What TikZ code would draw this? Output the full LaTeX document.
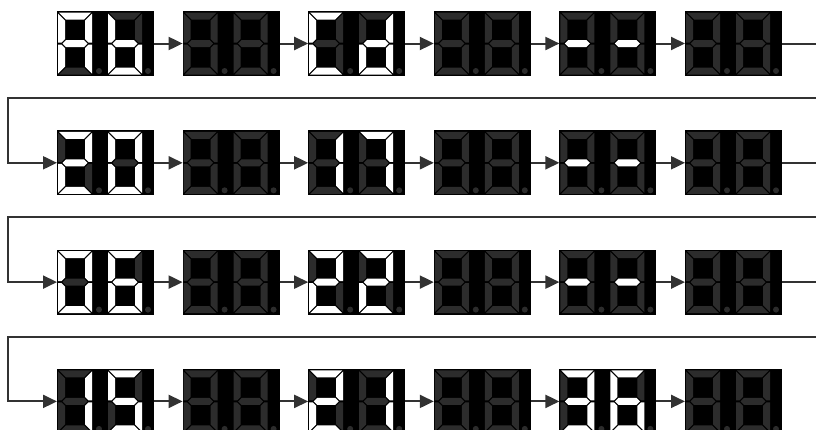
\documentclass[tikz,border=0pt]{standalone}
\usetikzlibrary{arrows.meta}
\definecolor{segoff}{RGB}{44,44,44}
\definecolor{linec}{RGB}{50,50,50}
\tikzset{
  segn/.style={fill=white},
  segf/.style={fill=segoff},
  dispbox/.style={rectangle, fill=black, draw=none, inner sep=0pt, outer sep=0pt,
    minimum width=97pt, minimum height=65pt, anchor=north west},
  conn/.style={draw=linec, line width=2pt, -{Triangle[length=14pt,width=13pt]}},
}
% seven segment digit: #1,#2 position, #3..#9 segments a b c d e f g (n = on, f = off)
\newcommand\dgt[9]{%
  \begin{scope}[shift={(#1,#2)}]
    \fill[seg#3] (1,0) -- (33,0) -- (26,7) -- (8,7) -- cycle;
    \fill[seg#4] (34,1) -- (27,8) -- (27,26.5) -- (30.5,30) -- (34,30) -- cycle;
    \fill[seg#5] (34,61) -- (27,54) -- (27,35.5) -- (30.5,32) -- (34,32) -- cycle;
    \fill[seg#6] (1,62) -- (33,62) -- (26,55) -- (8,55) -- cycle;
    \fill[seg#7] (0,61) -- (7,54) -- (7,35.5) -- (3.5,32) -- (0,32) -- cycle;
    \fill[seg#8] (0,1) -- (7,8) -- (7,26.5) -- (3.5,30) -- (0,30) -- cycle;
    \fill[seg#9] (4.5,31) -- (8,27.5) -- (26,27.5) -- (29.5,31) -- (26,34.5) -- (8,34.5) -- cycle;
  \end{scope}}
\newcommand\gA[2]{\dgt{#1}{#2}{n}{n}{n}{f}{n}{n}{n}}
\newcommand\gb[2]{\dgt{#1}{#2}{f}{f}{n}{n}{n}{n}{n}}
\newcommand\gC[2]{\dgt{#1}{#2}{n}{f}{f}{n}{n}{n}{f}}
\newcommand\gd[2]{\dgt{#1}{#2}{f}{n}{n}{n}{n}{f}{n}}
\newcommand\gM[2]{\dgt{#1}{#2}{f}{f}{f}{f}{f}{f}{n}}
\newcommand\gX[2]{\dgt{#1}{#2}{f}{f}{f}{f}{f}{f}{f}}
\newcommand\gZero[2]{\dgt{#1}{#2}{n}{n}{n}{n}{n}{n}{f}}
\newcommand\gOne[2]{\dgt{#1}{#2}{f}{n}{n}{f}{f}{f}{f}}
\newcommand\gTwo[2]{\dgt{#1}{#2}{n}{n}{f}{n}{n}{f}{n}}
\newcommand\gThree[2]{\dgt{#1}{#2}{n}{n}{n}{n}{f}{f}{n}}
\newcommand\gFive[2]{\dgt{#1}{#2}{n}{f}{n}{n}{f}{n}{n}}
\newcommand\gSix[2]{\dgt{#1}{#2}{n}{f}{n}{n}{n}{n}{n}}
\newcommand\gSeven[2]{\dgt{#1}{#2}{n}{n}{n}{f}{f}{f}{f}}
% display: name, x, y, glyph1, glyph2
\newcommand\disp[5]{%
  \node[dispbox] (#1) at (#2,#3) {};
  \begin{scope}[shift={(#2,#3)}]
    #4{1}{1.5}#5{51}{1.5}
    \fill[segf] (42,60) circle[radius=3pt];
    \fill[segf] (91,60) circle[radius=3pt];
  \end{scope}}
\begin{document}
\begin{tikzpicture}[x=1pt,y=-1pt]
\useasboundingbox (0,0) rectangle (816,429);
\clip (0,0) rectangle (816,429);
\fill[white] (0,0) rectangle (816,429);
% row 1
\disp{d11}{57}{11}{\gA}{\gb}
\disp{d12}{182.6}{11}{\gX}{\gX}
\disp{d13}{308.2}{11}{\gC}{\gd}
\disp{d14}{433.8}{11}{\gX}{\gX}
\disp{d15}{559.4}{11}{\gM}{\gM}
\disp{d16}{685}{11}{\gX}{\gX}
% row 2
\disp{d21}{57}{130.3}{\gTwo}{\gZero}
\disp{d22}{182.6}{130.3}{\gX}{\gX}
\disp{d23}{308.2}{130.3}{\gOne}{\gSeven}
\disp{d24}{433.8}{130.3}{\gX}{\gX}
\disp{d25}{559.4}{130.3}{\gM}{\gM}
\disp{d26}{685}{130.3}{\gX}{\gX}
% row 3
\disp{d31}{57}{249.6}{\gZero}{\gSix}
\disp{d32}{182.6}{249.6}{\gX}{\gX}
\disp{d33}{308.2}{249.6}{\gTwo}{\gTwo}
\disp{d34}{433.8}{249.6}{\gX}{\gX}
\disp{d35}{559.4}{249.6}{\gM}{\gM}
\disp{d36}{685}{249.6}{\gX}{\gX}
% row 4
\disp{d41}{57}{368.9}{\gOne}{\gFive}
\disp{d42}{182.6}{368.9}{\gX}{\gX}
\disp{d43}{308.2}{368.9}{\gTwo}{\gOne}
\disp{d44}{433.8}{368.9}{\gX}{\gX}
\disp{d45}{559.4}{368.9}{\gThree}{\gSix}
\disp{d46}{685}{368.9}{\gX}{\gX}
% connectors within rows
\foreach \r in {1,2,3,4}{
  \foreach \c [evaluate=\c as \n using int(\c+1)] in {1,...,5}{
    \draw[conn] (d\r\c.east) -- (d\r\n.west);
  }
}
% return connectors
\coordinate (r1) at (822,98);   \coordinate (l1) at (8,98);
\coordinate (r2) at (822,217.3); \coordinate (l2) at (8,217.3);
\coordinate (r3) at (822,336.6); \coordinate (l3) at (8,336.6);
\draw[conn] (d16.east) -| (r1) -- (l1) |- (d21.west);
\draw[conn] (d26.east) -| (r2) -- (l2) |- (d31.west);
\draw[conn] (d36.east) -| (r3) -- (l3) |- (d41.west);
\end{tikzpicture}
\end{document}
